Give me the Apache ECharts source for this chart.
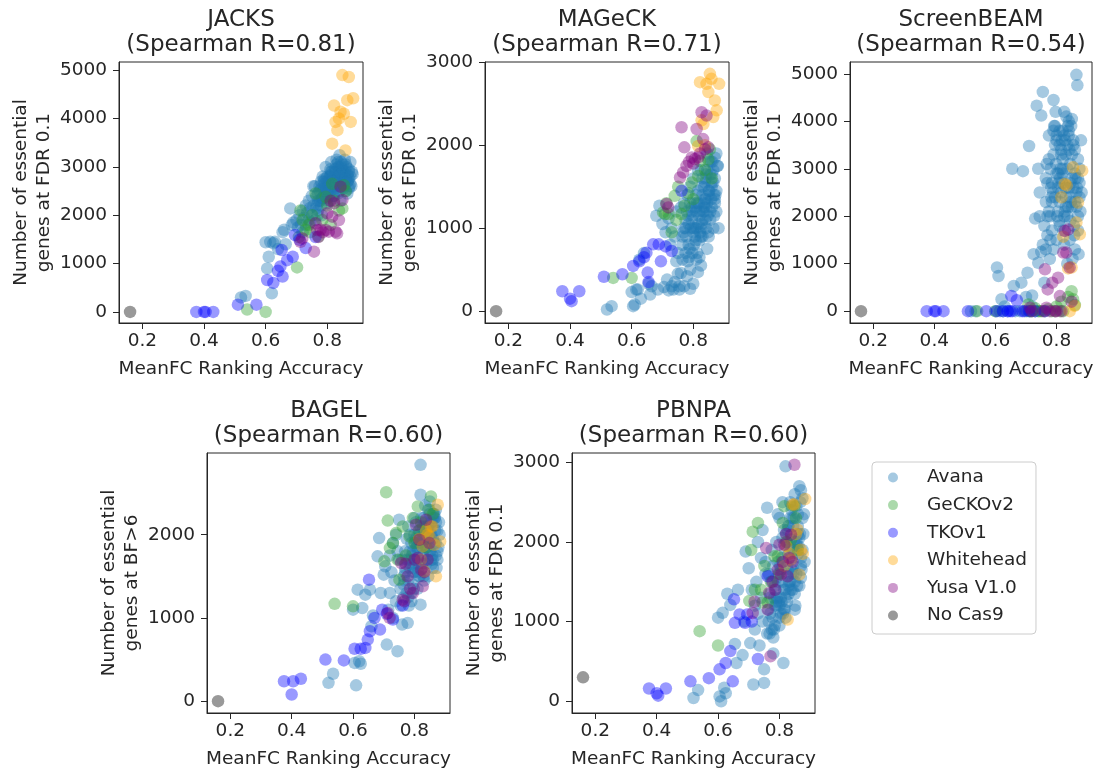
<!DOCTYPE html>
<html>
<head>
<meta charset="utf-8">
<script src="https://cdn.jsdelivr.net/npm/echarts@6/dist/echarts.min.js"></script>
<style>
  html, body { margin: 0; padding: 0; background: #ffffff; }
  #chart { width: 1099px; height: 773px; }
</style>
</head>
<body>
<div id="chart"></div>
<script>
// ---- Screening methods and their rank correlations ----
const methods = ['JACKS', 'MAGeCK', 'ScreenBEAM', 'BAGEL', 'PBNPA'];
const spearmanR = ['0.81', '0.71', '0.54', '0.60', '0.60'];
const yAxisTitles = [
  'Number of essential\ngenes at FDR 0.1',
  'Number of essential\ngenes at FDR 0.1',
  'Number of essential\ngenes at FDR 0.1',
  'Number of essential\ngenes at BF>6',
  'Number of essential\ngenes at FDR 0.1'
];
const xTicks = [0.2, 0.4, 0.6, 0.8];
const yTicks = [
  [0, 1000, 2000, 3000, 4000, 5000],
  [0, 1000, 2000, 3000],
  [0, 1000, 2000, 3000, 4000, 5000],
  [0, 1000, 2000],
  [0, 1000, 2000, 3000]
];
const libraries = ['Avana', 'GeCKOv2', 'TKOv1', 'Whitehead', 'Yusa V1.0', 'No Cas9'];

// ---- Avana screens: MeanFC ranking accuracy ----
const avanaAcc = [
  0.52, 0.535, 0.60, 0.605, 0.61, 0.615, 0.62, 0.625, 0.63, 0.64, 0.655, 0.66, 0.665, 0.68, 0.685, 0.69,
  0.70, 0.705, 0.71, 0.715, 0.72, 0.72, 0.725, 0.73, 0.73, 0.735, 0.74, 0.74, 0.745, 0.75, 0.75, 0.755,
  0.76, 0.765, 0.77, 0.775, 0.78, 0.785, 0.79, 0.795, 0.80, 0.805, 0.81, 0.815,
  0.76, 0.765, 0.77, 0.775, 0.78, 0.785, 0.79, 0.795, 0.80, 0.805, 0.81, 0.815,
  0.82, 0.825, 0.83, 0.835, 0.84, 0.845, 0.85, 0.855, 0.86, 0.865, 0.87, 0.875,
  0.82, 0.825, 0.83, 0.835, 0.84, 0.845, 0.85, 0.855, 0.86, 0.865, 0.87, 0.875,
  0.778, 0.788, 0.798, 0.808, 0.818, 0.828, 0.838, 0.848, 0.858, 0.868, 0.878, 0.882,
  0.782, 0.792, 0.802, 0.812, 0.822, 0.832, 0.842, 0.852, 0.862, 0.872, 0.813, 0.843,
  0.79, 0.80, 0.81, 0.82, 0.83, 0.84, 0.85, 0.86, 0.87, 0.825, 0.835, 0.845,
  0.765, 0.775, 0.785, 0.795, 0.805, 0.815, 0.825, 0.835, 0.845, 0.855, 0.865, 0.875,
  0.77, 0.78, 0.79, 0.80, 0.81, 0.82, 0.83, 0.84, 0.85, 0.86, 0.87, 0.88,
  0.745, 0.755, 0.768, 0.783, 0.797, 0.807, 0.817, 0.827, 0.837, 0.847, 0.857, 0.867
];
// essential genes called per method (same screen order as avanaAcc)
const avanaJACKS = [
  300, 330, 1440, 900, 1140, 1450, 385, 1420, 1450, 1300, 1650, 1700, 1400, 2140, 1800, 1850,
  1900, 1750, 2000, 1800, 2100, 1650, 1950, 2200, 1800, 2050, 2300, 1900, 2150, 2400, 2000, 2600,
  2600, 2200, 2450, 2300, 2550, 2350, 2700, 2500, 2800, 2400, 2650, 2900,
  1900, 2400, 2100, 2600, 2200, 2800, 2400, 3000, 2250, 2700, 2500, 2600,
  2700, 2900, 3150, 2600, 3240, 2800, 2950, 2700, 3050, 2850, 2750, 3100,
  2400, 2600, 2750, 3000, 2500, 3100, 2650, 2850, 2500, 2700, 2950, 2650,
  2300, 2500, 2700, 2800, 2600, 2900, 3000, 2750, 2900, 2800, 2600, 2850,
  2000, 2650, 2500, 2900, 2400, 2700, 2850, 2550, 3000, 2600, 3100, 2300,
  2750, 2350, 2800, 2600, 3050, 2700, 2900, 2750, 2900, 2550, 2450, 3000,
  2150, 2500, 2350, 2750, 2600, 2850, 2950, 3100, 2850, 2600, 2450, 2800,
  2300, 2700, 2550, 2450, 2950, 2800, 2650, 2900, 3050, 2750, 2550, 2900,
  1850, 2200, 2000, 2350, 2550, 2300, 2700, 2500, 2800, 2600, 3150, 2700
];
const avanaMAGeCK = [
  20, 60, 230, 60, 80, 260, 260, 620, 150, 700, 330, 200, 300, 1150, 260, 1270,
  1050, 290, 950, 380, 1120, 250, 800, 300, 1000, 260, 900, 350, 1200, 450, 700, 260,
  460, 620, 300, 1000, 420, 800, 270, 1100, 330, 900, 620, 470,
  1250, 900, 1300, 700, 1400, 1050, 1500, 1200, 1600, 1300, 1000, 1700,
  650, 1000, 1400, 1200, 1600, 1300, 1800, 1100, 1500, 1700, 1300, 1450,
  1200, 1700, 900, 1500, 1100, 1900, 1400, 1650, 1250, 1000, 1600, 1200,
  900, 750, 1150, 850, 1300, 1050, 1550, 950, 1350, 1150, 1750, 1000,
  600, 1000, 800, 1300, 950, 1200, 1000, 1450, 1800, 1400, 700, 1650,
  1300, 1000, 1200, 850, 1100, 1350, 900, 1550, 1850, 550, 1250, 750,
  800, 1100, 650, 1250, 1000, 1450, 900, 1300, 1700, 1200, 1550, 1900,
  1000, 1200, 500, 950, 1400, 1150, 1600, 1250, 1450, 1650, 1350, 1750,
  600, 300, 950, 1150, 700, 1250, 1050, 1500, 1350, 1150, 1800, 1400
];
const avanaScreenBEAM = [
  0, 0, 0, 920, 740, 0, 250, 0, 100, 0, 3000, 530, 0, 0, 600, 2950,
  300, 810, 3480, 0, 330, 100, 1200, 1950, 0, 4330, 1020, 3000, 2000, 1250, 4120, 4620,
  600, 2300, 1600, 3200, 2000, 2700, 4450, 3500, 1500, 2900, 3800, 2500,
  1800, 1300, 2700, 2100, 3000, 1700, 3300, 2400, 3700, 2100, 1800, 3400,
  3800, 4200, 2600, 3500, 4000, 3100, 2800, 3600, 2300, 2500, 3200, 2400,
  2900, 1400, 3300, 2000, 3700, 1900, 4050, 2600, 1300, 4980, 2000, 2700,
  1100, 2500, 3100, 1900, 2700, 3600, 2200, 3900, 1600, 4760, 2100, 2500,
  2600, 3900, 2000, 2800, 1700, 4100, 3400, 1100, 2800, 1200, 3000, 1500,
  1300, 3600, 2300, 3000, 2200, 2600, 3300, 2900, 1700, 3700, 1000, 2400,
  2800, 3700, 2300, 3900, 2600, 3300, 2000, 3000, 2700, 3500, 2200, 3000,
  2000, 1500, 3800, 2900, 3500, 3200, 2400, 3800, 2200, 3400, 2800, 3600,
  2500, 1400, 3100, 2400, 4200, 2700, 3600, 2100, 3900, 2300, 1800, 2600
];
const avanaBAGEL = [
  220, 330, 1100, 460, 190, 1340, 480, 450, 1120, 1280, 1340, 900, 1030, 1740, 1960, 1300,
  1520, 1620, 680, 1100, 1750, 1300, 1550, 1900, 1000, 1450, 2000, 1200, 600, 2180, 1700, 1350,
  920, 1500, 1800, 1300, 2100, 1600, 1900, 1400, 2200, 1700, 2000, 1500,
  1700, 1250, 1550, 1950, 1450, 2000, 1200, 1800, 1550, 2150, 1350, 1900,
  2840, 1900, 2200, 1700, 2050, 2300, 1800, 2150, 1950, 2250, 1750, 2050,
  2480, 1600, 2000, 2350, 1850, 2100, 2400, 1700, 2200, 1900, 2300, 1800,
  940, 1650, 1350, 1900, 1500, 2100, 1650, 1950, 1750, 2050, 1850, 2000,
  1150, 1750, 1900, 1550, 2200, 1450, 2000, 1800, 2250, 1600, 1650, 2100,
  1300, 1700, 1850, 1160, 1750, 1950, 2050, 1600, 2150, 1850, 2000, 1500,
  1400, 1700, 1800, 1550, 1950, 2050, 1650, 2150, 1850, 2000, 2200, 1700,
  1600, 1250, 1700, 2000, 1800, 2100, 1500, 1950, 2250, 1700, 1900, 2150,
  1800, 1150, 1450, 1700, 1600, 1850, 2000, 1750, 2100, 1950, 1650, 2200
];
const avanaPBNPA = [
  40, 140, 1050, 60, 0, 1110, 170, 100, 1350, 1210, 720, 480, 1400, 580, 1000, 1880,
  1670, 730, 1400, 210, 1200, 900, 1500, 1100, 2000, 700, 1800, 1300, 2150, 400, 230, 1600,
  2430, 1000, 1350, 900, 1700, 1200, 2000, 1500, 2300, 1100, 1750, 1400,
  850, 1600, 1100, 1900, 600, 1450, 1250, 2350, 1050, 1650, 2500, 1150,
  2950, 1700, 2200, 1500, 2400, 1900, 2600, 1600, 2100, 2700, 1800, 2300,
  1300, 2000, 1450, 2500, 1650, 2200, 1350, 2450, 1850, 2050, 2650, 1900,
  1050, 1400, 1250, 1800, 1150, 2200, 1600, 2000, 1450, 2500, 2100, 1750,
  900, 1300, 1700, 1100, 2100, 1500, 2300, 1200, 1950, 1650, 480, 1400,
  1200, 950, 1500, 1050, 1350, 1800, 1150, 2350, 1550, 1250, 1950, 1600,
  1150, 1500, 950, 1750, 1300, 2150, 1600, 2300, 1700, 2000, 1450, 2550,
  1300, 800, 1550, 1200, 2050, 1400, 1850, 2450, 1500, 2200, 1700, 2350,
  1000, 1750, 850, 1300, 1600, 1250, 1900, 2150, 1400, 2300, 1950, 2100
];

// ---- GeCKOv2 screens ----
const geckoAcc = [0.54, 0.60, 0.702, 0.708, 0.713, 0.72, 0.73, 0.74, 0.745, 0.751, 0.762,
  0.772, 0.784, 0.795, 0.80, 0.811, 0.816, 0.822, 0.838, 0.849, 0.854, 0.86];
const geckoJACKS = [50, 0, 920, 1550, 2100, 1900, 1700, 1800, 1650, 2000, 2450,
  1560, 1900, 2380, 2200, 1800, 2650, 2300, 2100, 2140, 2620, 2500];
const geckoMAGeCK = [400, 400, 1190, 1170, 1300, 1170, 950, 1390, 1100, 1500, 1170,
  1270, 1420, 1550, 1350, 2050, 1630, 1810, 1700, 1830, 1950, 1600];
const geckoScreenBEAM = [0, 0, 0, 140, 0, 0, 60, 0, 0, 0, 0,
  40, 0, 0, 100, 0, 200, 0, 300, 420, 250, 130];
const geckoBAGEL = [1170, 1140, 1680, 2510, 2170, 1840, 1900, 2020, 1700, 1460, 2100,
  1750, 1980, 2200, 1900, 2340, 2050, 2150, 1850, 2300, 2460, 2250];
const geckoPBNPA = [880, 700, 1260, 1900, 2130, 1400, 2240, 1400, 1240, 1700, 1240,
  1500, 1820, 1820, 1600, 2240, 2450, 2000, 2030, 2450, 2300, 1900];

// ---- TKOv1 screens ----
const tkoAcc = [0.375, 0.40, 0.405, 0.43, 0.51, 0.57, 0.605, 0.625, 0.64, 0.648, 0.652,
  0.655, 0.67, 0.688, 0.695, 0.71, 0.73, 0.762];
const tkoJACKS = [0, 0, 0, 0, 150, 150, 660, 600, 850, 940, 1280,
  730, 1070, 1140, 1590, 1490, 1320, 1550];
const tkoMAGeCK = [240, 150, 120, 240, 415, 445, 545, 600, 650, 705, 465,
  350, 805, 805, 600, 780, 725, 1450];
const tkoScreenBEAM = [0, 0, 0, 0, 0, 0, 0, 0, 0, 0, 320,
  0, 230, 0, 0, 0, 0, 0];
const tkoBAGEL = [240, 80, 240, 270, 500, 490, 630, 630, 640, 740, 1460,
  840, 1000, 860, 1100, 1050, 980, 1150];
const tkoPBNPA = [160, 100, 70, 160, 250, 290, 400, 480, 630, 250, 1280,
  985, 1090, 985, 1090, 1000, 530, 1570];

// ---- Whitehead screens ----
const whiteheadAcc = [0.816, 0.822, 0.827, 0.833, 0.838, 0.843, 0.849, 0.854, 0.859, 0.865, 0.87, 0.876, 0.884];
const whiteheadJACKS = [3480, 4270, 3930, 3760, 4000, 4140, 4900, 4100, 3340, 4380, 4860, 3930, 4420];
const whiteheadMAGeCK = [1990, 2760, 2300, 2255, 2000, 2740, 2640, 2860, 2800, 2340, 2540, 2420, 2740];
const whiteheadScreenBEAM = [2400, 1570, 2680, 2650, 900, 0, 920, 3030, 110, 1870, 2290, 1620, 2960];
const whiteheadBAGEL = [1950, 1700, 1860, 1560, 2050, 2000, 1980, 2100, 2100, 1880, 1500, 2360, 1920];
const whiteheadPBNPA = [1700, 1950, 1025, 1850, 1778, 2470, 2470, 2100, 2155, 1590, 1904, 1850, 2540];

// ---- Yusa V1.0 screens ----
const yusaAcc = [0.713, 0.719, 0.757, 0.762, 0.767, 0.771, 0.778, 0.786, 0.795, 0.80,
  0.805, 0.811, 0.816, 0.822, 0.827, 0.832, 0.838, 0.843, 0.849];
const yusaJACKS = [1450, 1520, 1246, 1833, 1695, 1550, 1700, 1650, 1695, 2040,
  1660, 2300, 1970, 2250, 1660, 1625, 1900, 2590, 2314];
const yusaMAGeCK = [1290, 1250, 1611, 2216, 1672, 1974, 1750, 1800, 1853, 1780,
  1833, 2195, 1853, 1900, 2397, 2074, 1950, 2357, 1974];
const yusaScreenBEAM = [72, 0, 0, 881, 72, 458, 0, 600, 0, 0,
  706, 317, 0, 1234, 1690, 1234, 1720, 917, 200];
const yusaBAGEL = [1060, 1000, 1660, 1220, 1200, 1650, 1500, 1350, 1300, 1700,
  2120, 1720, 1940, 1580, 1380, 1550, 2180, 1700, 1900];
const yusaPBNPA = [1109, 1250, 1925, 1150, 1360, 565, 1500, 1400, 1650, 1967,
  1590, 1750, 1967, 2100, 1569, 1800, 2092, 1750, 2970];

// ---- Control screen without Cas9 ----
const noCas9Acc = [0.16];
const noCas9Counts = [[0], [0], [0], [0], [300]];

// ---- Drawing ----
const FONT = 'DejaVu Sans';
const INK = '#262626';
const libColors = [
  'rgba(31,119,180,0.5)', 'rgba(44,160,44,0.5)', 'rgba(0,0,255,0.5)',
  'rgba(255,165,0,0.5)', 'rgba(128,0,128,0.5)', 'rgba(0,0,0,0.5)'
];
const libAcc = [avanaAcc, geckoAcc, tkoAcc, whiteheadAcc, yusaAcc, noCas9Acc];
const counts = [
  [avanaJACKS, geckoJACKS, tkoJACKS, whiteheadJACKS, yusaJACKS, noCas9Counts[0]],
  [avanaMAGeCK, geckoMAGeCK, tkoMAGeCK, whiteheadMAGeCK, yusaMAGeCK, noCas9Counts[1]],
  [avanaScreenBEAM, geckoScreenBEAM, tkoScreenBEAM, whiteheadScreenBEAM, yusaScreenBEAM, noCas9Counts[2]],
  [avanaBAGEL, geckoBAGEL, tkoBAGEL, whiteheadBAGEL, yusaBAGEL, noCas9Counts[3]],
  [avanaPBNPA, geckoPBNPA, tkoPBNPA, whiteheadPBNPA, yusaPBNPA, noCas9Counts[4]]
];

// panel frames and value ranges
const layout = [
  { left: 119, top: 62, width: 244, height: 261, yMin: -230, yMax: 5170 },
  { left: 485, top: 62, width: 244, height: 261, yMin: -143, yMax: 3003 },
  { left: 850, top: 62, width: 242, height: 261, yMin: -250, yMax: 5250 },
  { left: 207, top: 453, width: 243, height: 260, yMin: -142, yMax: 2982 },
  { left: 572, top: 453, width: 243, height: 260, yMin: -148, yMax: 3118 }
];
const X_MIN = 0.124, X_MAX = 0.916;
const TICK_FS = 18.5;

const grids = [], xAxes = [], yAxes = [], titles = [], series = [];
layout.forEach((p, i) => {
  grids.push({
    left: p.left, top: p.top, width: p.width, height: p.height,
    show: true, borderColor: INK, borderWidth: 1, containLabel: false
  });
  xAxes.push({
    type: 'value', gridIndex: i, min: X_MIN, max: X_MAX,
    axisLine: { show: true, onZero: false, lineStyle: { color: INK, width: 1 } },
    axisTick: { show: true, length: 6, customValues: xTicks, lineStyle: { color: INK, width: 1 } },
    axisLabel: { customValues: xTicks, formatter: v => v.toFixed(1), margin: 9,
      fontSize: TICK_FS, fontFamily: FONT, color: INK },
    splitLine: { show: false },
    name: 'MeanFC Ranking Accuracy', nameLocation: 'middle', nameGap: 37,
    nameTextStyle: { fontSize: TICK_FS, fontFamily: FONT, color: INK }
  });
  yAxes.push({
    type: 'value', gridIndex: i, min: p.yMin, max: p.yMax,
    axisLine: { show: true, onZero: false, lineStyle: { color: INK, width: 1 } },
    axisTick: { show: true, length: 6, customValues: yTicks[i], lineStyle: { color: INK, width: 1 } },
    axisLabel: { customValues: yTicks[i], formatter: v => String(Math.round(v)), margin: 12,
      fontSize: TICK_FS, fontFamily: FONT, color: INK },
    splitLine: { show: false },
    name: yAxisTitles[i], nameLocation: 'middle', nameRotate: 90, nameGap: 61,
    nameTextStyle: { fontSize: TICK_FS, lineHeight: 23, fontFamily: FONT, color: INK, align: 'center' }
  });
  titles.push({
    text: methods[i] + '\n(Spearman R=' + spearmanR[i] + ')',
    left: p.left + p.width / 2, top: p.top - 54, textAlign: 'center', padding: 0,
    textStyle: { fontSize: 23, lineHeight: 25, fontWeight: 'normal', fontFamily: FONT, color: INK }
  });
  libraries.forEach((lib, j) => {
    const ys = counts[i][j];
    series.push({
      type: 'scatter', name: lib, xAxisIndex: i, yAxisIndex: i,
      data: libAcc[j].map((x, k) => [x, ys[k]]),
      symbol: 'circle', symbolSize: 12.5,
      itemStyle: { color: libColors[j], borderWidth: 0 },
      silent: true, emphasis: { disabled: true }
    });
  });
});

const chart = echarts.init(document.getElementById('chart'), null, { renderer: 'canvas' });
chart.setOption({
  animation: false,
  backgroundColor: '#ffffff',
  color: libColors,
  title: titles,
  grid: grids,
  xAxis: xAxes,
  yAxis: yAxes,
  legend: {
    data: libraries, orient: 'vertical', left: 872, top: 462,
    padding: [6, 9, 9, 16], itemWidth: 20, itemHeight: 10, itemGap: 8.6,
    icon: 'circle', selectedMode: false,
    borderColor: '#cccccc', borderWidth: 1, borderRadius: 4,
    textStyle: { fontSize: TICK_FS, lineHeight: 18, padding: [0, 0, 0, 19], fontFamily: FONT, color: INK }
  },
  series: series
});
</script>
</body>
</html>
